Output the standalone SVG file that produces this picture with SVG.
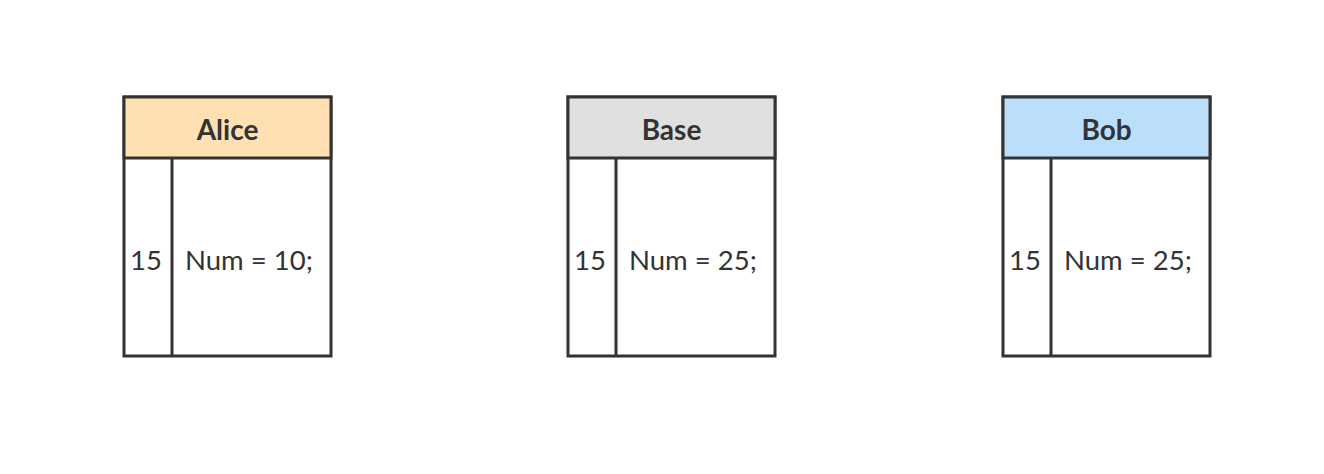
<svg xmlns="http://www.w3.org/2000/svg" width="1324" height="474" viewBox="0 0 1324 474">
<style>
.box{fill:#fff;stroke:#333;stroke-width:3}
.ln{stroke:#333;stroke-width:3;fill:none}
.h{font-family:Lato,"Noto Sans",sans-serif;font-size:28px;font-weight:bold;fill:#333;text-anchor:middle;dominant-baseline:central}
.t{font-family:Lato,"Noto Sans",sans-serif;font-size:27.5px;fill:#333;dominant-baseline:central}
</style>
<rect width="1324" height="474" fill="#fff"/>
<g id="alice">
<rect class="box" x="124" y="97" width="207" height="259"/>
<rect x="124" y="97" width="207" height="61" fill="#FFE0B2" stroke="#333" stroke-width="3"/>
<line class="ln" x1="172" y1="158" x2="172" y2="356"/>
<text class="h" x="227.5" y="129">Alice</text>
<text class="t" x="146" y="259" text-anchor="middle">15</text>
<text class="t" x="185" y="259">Num = 10;</text>
</g>
<g id="base">
<rect class="box" x="568" y="97" width="207" height="259"/>
<rect x="568" y="97" width="207" height="61" fill="#E0E0E0" stroke="#333" stroke-width="3"/>
<line class="ln" x1="616" y1="158" x2="616" y2="356"/>
<text class="h" x="671.5" y="129">Base</text>
<text class="t" x="590" y="259" text-anchor="middle">15</text>
<text class="t" x="629" y="259">Num = 25;</text>
</g>
<g id="bob">
<rect class="box" x="1003" y="97" width="207" height="259"/>
<rect x="1003" y="97" width="207" height="61" fill="#BBDEFB" stroke="#333" stroke-width="3"/>
<line class="ln" x1="1051" y1="158" x2="1051" y2="356"/>
<text class="h" x="1106.5" y="129">Bob</text>
<text class="t" x="1025" y="259" text-anchor="middle">15</text>
<text class="t" x="1064" y="259">Num = 25;</text>
</g>
<g id="connectors"></g>
</svg>
